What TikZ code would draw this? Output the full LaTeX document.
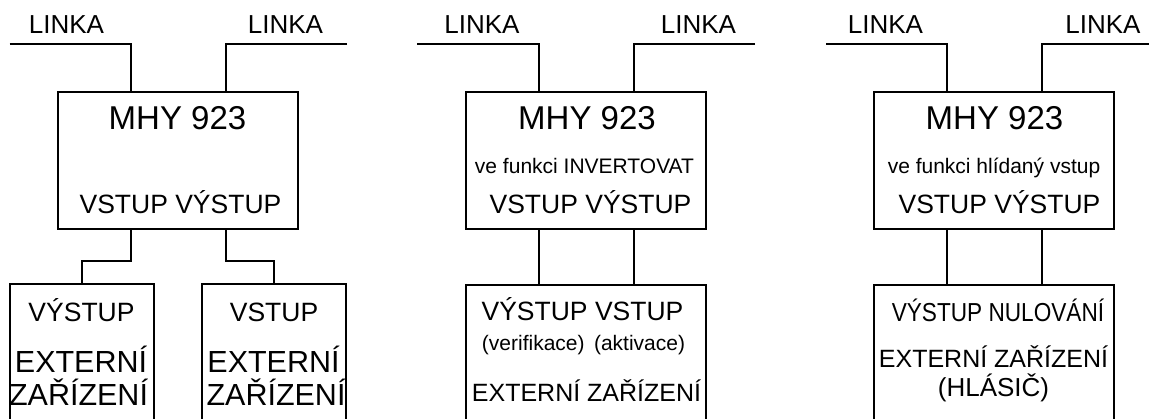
\documentclass[tikz,border=0pt]{standalone}
\usepackage{fontspec}
\setmainfont{Liberation Sans}
\usetikzlibrary{calc}
\newcommand\fLinka{\fontsize{26}{26}\selectfont}
\newcommand\fMhy{\fontsize{33}{33}\selectfont}
\newcommand\fSub{\fontsize{21}{21}\selectfont}
\newcommand\fIo{\fontsize{26.5}{26.5}\selectfont}
\newcommand\fBig{\fontsize{30.5}{30.5}\selectfont}
\newcommand\fExt{\fontsize{25}{25}\selectfont}
\tikzset{
  box/.style={draw, line width=2pt, minimum width=240pt, minimum height=137pt,
    inner sep=0pt, outer sep=0pt, anchor=north west},
  ebox/.style={draw, line width=2pt, minimum height=200pt,
    inner sep=0pt, outer sep=0pt, anchor=north west},
  wire/.style={line width=2pt},
  txt/.style={inner sep=0pt, outer sep=0pt, anchor=base},
}
\begin{document}
\begin{tikzpicture}[x=1pt,y=-1pt]
\useasboundingbox (0,0) rectangle (1149,419);
\clip (0,0) rectangle (1149,419);

% ---------- group 1 ----------
\node[box] (m1) at (58,92) {};
\coordinate (m1i) at ($(m1.north west)!0.304!(m1.north east)$);
\coordinate (m1j) at ($(m1.north west)!0.7!(m1.north east)$);
\coordinate (m1k) at ($(m1.south west)!0.304!(m1.south east)$);
\coordinate (m1l) at ($(m1.south west)!0.7!(m1.south east)$);
\coordinate (w1l) at ($(m1.north west)+(-48.5,-48)$);
\coordinate (w1r) at ($(m1.north east)+(49,-48)$);
\draw[wire] (w1l) -| (m1i);
\draw[wire] (w1r) -| (m1j);
\node[txt,font=\fLinka] (t1a) at (66.5,34) {LINKA};
\node[txt,font=\fLinka] (t1b) at (285.5,34) {LINKA};
\node[txt,font=\fMhy] (t1m) at (177.5,130) {MHY 923};
\node[txt,font=\fIo] (t1io) at (180.5,214) {VSTUP VÝSTUP};

\node[ebox,minimum width=144.5pt] (e1a) at (9.5,284) {};
\node[ebox,minimum width=144pt] (e1b) at (202,284) {};
\draw[wire] (m1k) |- ($(m1k)!0.58!(e1a.north)$) -| (e1a.north);
\draw[wire] (m1l) |- ($(m1l)!0.58!(e1b.north)$) -| (e1b.north);
\node[txt,font=\fIo] (t1c) at (81.5,322) {VÝSTUP};
\node[txt,font=\fBig] (t1d) at (81,373) {EXTERNÍ};
\node[txt,font=\fBig] (t1e) at (78.5,406) {ZAŘÍZENÍ};
\node[txt,font=\fIo] (t1f) at (274,322) {VSTUP};
\node[txt,font=\fBig] (t1g) at (273.5,373) {EXTERNÍ};
\node[txt,font=\fBig] (t1h) at (276,406) {ZAŘÍZENÍ};

% ---------- group 2 ----------
\node[box] (m2) at (466,92) {};
\coordinate (m2i) at ($(m2.north west)!0.304!(m2.north east)$);
\coordinate (m2j) at ($(m2.north west)!0.7!(m2.north east)$);
\coordinate (m2k) at ($(m2.south west)!0.304!(m2.south east)$);
\coordinate (m2l) at ($(m2.south west)!0.7!(m2.south east)$);
\coordinate (w2l) at ($(m2.north west)+(-49,-48)$);
\coordinate (w2r) at ($(m2.north east)+(49,-48)$);
\draw[wire] (w2l) -| (m2i);
\draw[wire] (w2r) -| (m2j);
\node[txt,font=\fLinka] (t2a) at (482,34) {LINKA};
\node[txt,font=\fLinka] (t2b) at (698.5,34) {LINKA};
\node[txt,font=\fMhy] (t2m) at (587,130) {MHY 923};
\node[txt,font=\fSub] (t2s) at (584.5,174) {ve funkci INVERTOVAT};
\node[txt,font=\fIo] (t2io) at (590.5,214) {VSTUP VÝSTUP};

\node[ebox,minimum width=240pt] (e2) at (466,285) {};
\draw[wire] (m2k) -- (m2k |- e2.north);
\draw[wire] (m2l) -- (m2l |- e2.north);
\node[txt,font=\fIo] (t2c) at (582.5,321) {VÝSTUP VSTUP};
\node[txt,font=\fSub] (t2d) at (583.5,351) {(verifikace)\hspace{0.45em}(aktivace)};
\node[txt,font=\fExt] (t2e) at (586.5,402) {EXTERNÍ ZAŘÍZENÍ};

% ---------- group 3 ----------
\node[box] (m3) at (874,92) {};
\coordinate (m3i) at ($(m3.north west)!0.304!(m3.north east)$);
\coordinate (m3j) at ($(m3.north west)!0.7!(m3.north east)$);
\coordinate (m3k) at ($(m3.south west)!0.304!(m3.south east)$);
\coordinate (m3l) at ($(m3.south west)!0.7!(m3.south east)$);
\coordinate (w3l) at ($(m3.north west)+(-48,-48)$);
\coordinate (w3r) at ($(m3.north east)+(49,-48)$);
\draw[wire] (w3l) -| (m3i);
\draw[wire] (w3r) -| (m3j);
\node[txt,font=\fLinka] (t3a) at (885.5,34) {LINKA};
\node[txt,font=\fLinka] (t3b) at (1103,34) {LINKA};
\node[txt,font=\fMhy] (t3m) at (994.5,130) {MHY 923};
\node[txt,font=\fSub] (t3s) at (994,174) {ve funkci hlídaný vstup};
\node[txt,font=\fIo] (t3io) at (999.5,214) {VSTUP VÝSTUP};

\node[ebox,minimum width=240pt] (e3) at (874,285) {};
\draw[wire] (m3k) -- (m3k |- e3.north);
\draw[wire] (m3l) -- (m3l |- e3.north);
\node[txt,font=\fLinka] (t3c) at (998,322) {\scalebox{0.87}[1]{VÝSTUP NULOVÁNÍ}};
\node[txt,font=\fExt] (t3d) at (993.5,368) {EXTERNÍ ZAŘÍZENÍ};
\node[txt,font=\fLinka] (t3e) at (993.5,397) {(HLÁSIČ)};
\end{tikzpicture}
\end{document}
